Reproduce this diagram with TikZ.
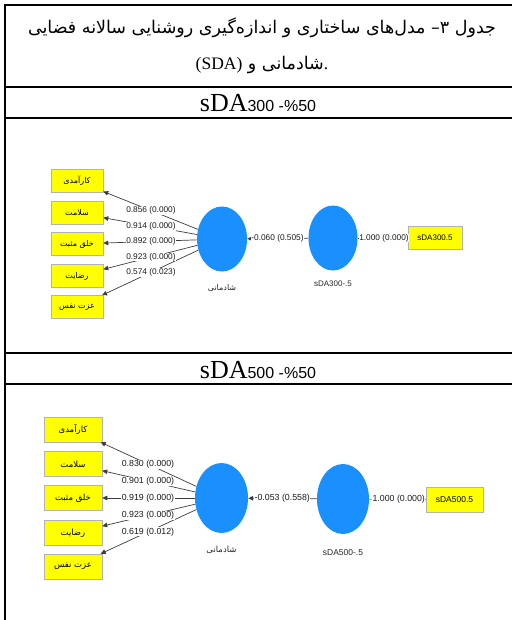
\documentclass[tikz,border=0pt]{standalone}
\usepackage{fontspec}
\setmainfont{Liberation Serif}
\setsansfont{Liberation Sans}
\newfontfamily\arabicfont[Script=Arabic]{DejaVu Sans}
\TeXXeTstate=1
\usetikzlibrary{arrows.meta,calc,shapes.geometric}
\definecolor{lvblue}{RGB}{26,144,255}
\definecolor{indyellow}{RGB}{255,255,0}
\definecolor{linegray}{RGB}{60,60,60}
\tikzset{
  rule/.style={line width=1.8pt, line cap=rect},
  ind/.style={draw=black!30, fill=indyellow, line width=0.5pt, inner sep=0pt, font=\arabicfont\fontsize{8}{9}\selectfont},
  indA/.style={ind, minimum width=52pt, minimum height=23pt},
  indB/.style={ind, minimum width=58pt, minimum height=25pt, font=\arabicfont\fontsize{8.5}{9}\selectfont},
  lv/.style={ellipse, fill=lvblue, inner sep=0pt},
  lvA/.style={lv, minimum width=50pt, minimum height=65pt},
  lvB/.style={lv, minimum width=53pt, minimum height=70pt},
  lbl/.style={fill=white, inner sep=0.4pt, text=black!90, font=\sffamily\fontsize{8.3}{9}\selectfont},
  lblB/.style={lbl, font=\sffamily\fontsize{8.8}{9}\selectfont},
  lvname/.style={inner sep=0pt, text=black!85, font=\sffamily\fontsize{8}{9}\selectfont},
  lvnameFa/.style={inner sep=0pt, text=black!85, font=\arabicfont\fontsize{8}{9}\selectfont},
  arr/.style={draw=linegray, line width=0.7pt, -{Triangle[length=5pt,width=4.5pt]}},
  plainln/.style={draw=linegray, line width=0.7pt},
}
\begin{document}
\begin{tikzpicture}[x=1pt,y=-1pt]
\useasboundingbox (0,0) rectangle (511,620);
% table rules
\draw[rule] (5,620) -- (5,5) -- (511,5);
\draw[rule] (5,87) -- (511,87);
\draw[rule] (5,118) -- (511,118);
\draw[rule] (5,353) -- (511,353);
\draw[rule] (5,384) -- (511,384);
% title
\node (t1) [font=\arabicfont\fontsize{17.5}{20}\selectfont] at (262,28) {\hbox{\beginR جدول ۳– مدل‌های ساختاری و اندازه‌گیری روشنایی سالانه فضایی\endR}};
\node (t2) at (262,65) {\hbox{\fontsize{17.5}{20}\selectfont (SDA)}\hbox{\arabicfont\fontsize{17.5}{20}\selectfont\ \beginR شادمانی و\endR}\hbox{\fontsize{17.5}{20}\selectfont .}};
\node (h1) [anchor=base, inner sep=0pt] at (258,112) {{\fontsize{26}{26}\selectfont sDA}{\sffamily\fontsize{16}{16}\selectfont 300 -\%50}};
\node (h2) [anchor=base, inner sep=0pt] at (258,378) {{\fontsize{26}{26}\selectfont sDA}{\sffamily\fontsize{16}{16}\selectfont 500 -\%50}};

% ---------- diagram 1 ----------
\node[indA] (b11) at (77,181) {\beginR کارآمدی\endR};
\node[indA] (b12) at (77,213) {\beginR سلامت\endR};
\node[indA] (b13) at (77,244) {\beginR خلق مثبت\endR};
\node[indA] (b14) at (77,276) {\beginR رضایت\endR};
\node[indA] (b15) at (77,307) {\beginR عزت نفس\endR};
\node[lvA] (c11) at (222,239) {};
\node[lvA, minimum width=49pt] (c12) at (333,238) {};
\node[indA, minimum width=54pt, font=\sffamily\fontsize{8}{9}\selectfont] (d1) at (435,238) {sDA300.5};
\node[lvnameFa] (n11) at (222,288) {\beginR شادمانی\endR};
\node[lvname] (n12) at (333,284) {sDA300-.5};
\foreach \i in {1,...,5} {\draw[arr] (c11) -- (b1\i);}
\draw[arr] (c12) -- (c11);
\draw[plainln] (c12) -- (d1);
\node[lbl] (l11) at ($(c11)!0.49!(b11)$) {0.856 (0.000)};
\node[lbl] (l12) at ($(c11)!0.49!(b12)$) {0.914 (0.000)};
\node[lbl] (l13) at ($(c11)!0.49!(b13)$) {0.892 (0.000)};
\node[lbl] (l14) at ($(c11)!0.49!(b14)$) {0.923 (0.000)};
\node[lbl] (l15) at ($(c11)!0.49!(b15)$) {0.574 (0.023)};
\node[lbl] (l16) at ($(c11)!0.5!(c12)$) {-0.060 (0.505)};
\node[lbl] (l17) at ($(c12)!0.5!(d1)$) {1.000 (0.000)};

% ---------- diagram 2 ----------
\node[indB] (b21) at (73,429.5) {\beginR کارآمدی\endR};
\node[indB] (b22) at (73,464) {\beginR سلامت\endR};
\node[indB] (b23) at (73,498) {\beginR خلق مثبت\endR};
\node[indB] (b24) at (73,533) {\beginR رضایت\endR};
\node[indB] (b25) at (73,566.5) {\beginR عزت نفس\endR};
\node[lvB] (c21) at (221.5,498) {};
\node[lvB, minimum width=52pt] (c22) at (343,499) {};
\node[indB, minimum width=57pt, font=\sffamily\fontsize{8.5}{9}\selectfont] (d2) at (454.5,499.5) {sDA500.5};
\node[lvnameFa, font=\arabicfont\fontsize{8.5}{9}\selectfont] (n21) at (221.5,550) {\beginR شادمانی\endR};
\node[lvname, font=\sffamily\fontsize{8.5}{9}\selectfont] (n22) at (343,553) {sDA500-.5};
\foreach \i in {1,...,5} {\draw[arr] (c21) -- (b2\i);}
\draw[arr] (c22) -- (c21);
\draw[plainln] (c22) -- (d2);
\node[lblB] (l21) at ($(c21)!0.495!(b21)$) {0.830 (0.000)};
\node[lblB] (l22) at ($(c21)!0.495!(b22)$) {0.901 (0.000)};
\node[lblB] (l23) at ($(c21)!0.495!(b23)$) {0.919 (0.000)};
\node[lblB] (l24) at ($(c21)!0.495!(b24)$) {0.923 (0.000)};
\node[lblB] (l25) at ($(c21)!0.495!(b25)$) {0.619 (0.012)};
\node[lblB] (l26) at ($(c21)!0.5!(c22)$) {-0.053 (0.558)};
\node[lblB] (l27) at ($(c22)!0.5!(d2)$) {1.000 (0.000)};
\end{tikzpicture}
\end{document}
